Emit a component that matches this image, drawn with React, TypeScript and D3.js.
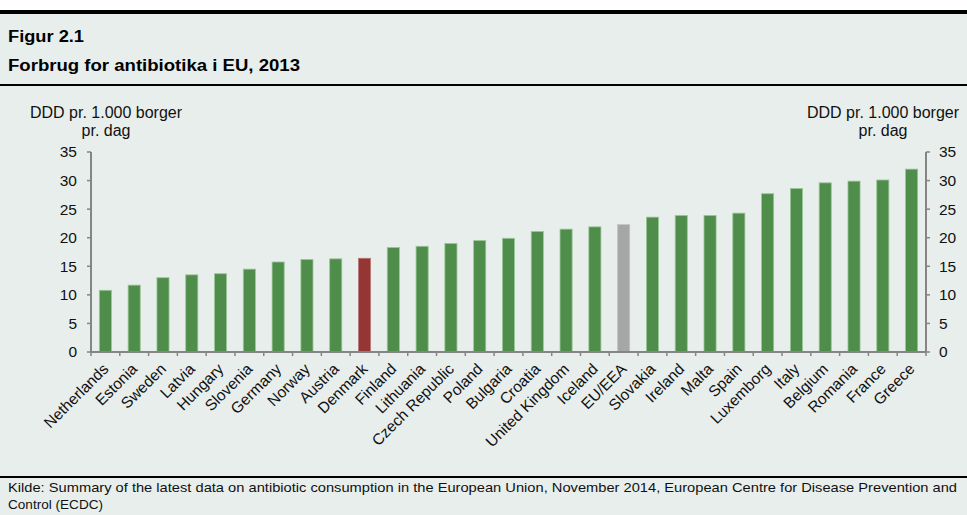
import React from "react";
import * as d3 from "d3";

const categories = [
  "Netherlands", "Estonia", "Sweden", "Latvia", "Hungary", "Slovenia", "Germany",
  "Norway", "Austria", "Denmark", "Finland", "Lithuania", "Czech Republic", "Poland",
  "Bulgaria", "Croatia", "United Kingdom", "Iceland", "EU/EEA", "Slovakia", "Ireland",
  "Malta", "Spain", "Luxemborg", "Italy", "Belgium", "Romania", "France", "Greece",
];
const values = [
  10.8, 11.7, 13.0, 13.5, 13.7, 14.5, 15.75, 16.2, 16.3, 16.4, 18.3, 18.5, 19.0, 19.5,
  19.9, 21.1, 21.5, 21.9, 22.3, 23.6, 23.9, 23.9, 24.3, 27.7, 28.6, 29.6, 29.9, 30.1, 32.0,
];
const yTicks = [0, 5, 10, 15, 20, 25, 30, 35];
const title1 = "Figur 2.1";
const title2 = "Forbrug for antibiotika i EU, 2013";
const axisTitle = ["DDD pr. 1.000 borger", "pr. dag"];
const source1 =
  "Kilde: Summary of the latest data on antibiotic consumption in the European Union, November 2014, European Centre for Disease Prevention and";
const source2 = "Control (ECDC)";

const W = 967;
const H = 515;
const left = 91;
const right = 926;
const y0 = 352;
const yTop = 152;
const axisColor = "#858585";
const font = "'Liberation Sans', Arial, sans-serif";
const fs = 15.5;

function barColor(c: string) {
  if (c === "Denmark") return "#943634";
  if (c === "EU/EEA") return "#a6a6a6";
  return "#4f8d4b";
}
function barStroke(c: string) {
  if (c === "Denmark") return "#b87876";
  if (c === "EU/EEA") return "#c4c4c4";
  return "#9cc598";
}

export default function App() {
  const x = d3.scaleBand<string>().domain(categories).range([left, right]).paddingInner(0.58).paddingOuter(0.29);
  const y = d3.scaleLinear().domain([0, 35]).range([y0, yTop]);
  const step = x.step();
  const boundaries = d3.range(categories.length + 1).map((i) => left + i * step);

  return (
    <svg width={W} height={H} style={{ position: "absolute", left: 0, top: 0 }} fontFamily={font}>
      <rect x={0} y={0} width={W} height={H} fill="#ffffff" />
      <rect x={0} y={14} width={W} height={H - 14} fill="#e8eeec" />
      <rect x={0} y={10} width={W} height={4} fill="#000" />
      <rect x={0} y={84} width={W} height={2} fill="#000" />
      <rect x={0} y={476} width={W} height={2} fill="#000" />

      <text x={8} y={42} fontSize={16} fontWeight="bold" textLength={76} lengthAdjust="spacingAndGlyphs">{title1}</text>
      <text x={8} y={71} fontSize={16} fontWeight="bold" textLength={292} lengthAdjust="spacingAndGlyphs">{title2}</text>

      {/* axis titles */}
      <text x={106} y={118} fontSize={16} textAnchor="middle" fill="#111">{axisTitle[0]}</text>
      <text x={106} y={136} fontSize={16} textAnchor="middle" fill="#111">{axisTitle[1]}</text>
      <text x={883} y={118} fontSize={16} textAnchor="middle" fill="#111">{axisTitle[0]}</text>
      <text x={883} y={136} fontSize={16} textAnchor="middle" fill="#111">{axisTitle[1]}</text>

      {/* bars */}
      {categories.map((c, i) => (
        <rect
          key={c}
          x={x(c)}
          y={y(values[i])}
          width={x.bandwidth()}
          height={y0 - y(values[i])}
          fill={barColor(c)}
          stroke={barStroke(c)}
          strokeWidth={0.8}
        />
      ))}

      {/* left axis */}
      <line x1={left} x2={left} y1={yTop} y2={y0} stroke={axisColor} strokeWidth={2} />
      {yTicks.map((t) => (
        <g key={"l" + t}>
          <line x1={left - 4} x2={left} y1={y(t)} y2={y(t)} stroke={axisColor} strokeWidth={1.5} />
          <text x={77} y={y(t)} dy="0.35em" fontSize={fs} textAnchor="end" fill="#111">{t}</text>
        </g>
      ))}
      {/* right axis */}
      <line x1={right} x2={right} y1={yTop} y2={y0} stroke={axisColor} strokeWidth={2} />
      {yTicks.map((t) => (
        <g key={"r" + t}>
          <line x1={right} x2={right + 4} y1={y(t)} y2={y(t)} stroke={axisColor} strokeWidth={1.5} />
          <text x={939} y={y(t)} dy="0.35em" fontSize={fs} textAnchor="start" fill="#111">{t}</text>
        </g>
      ))}
      {/* x axis */}
      <line x1={left} x2={right} y1={y0} y2={y0} stroke={axisColor} strokeWidth={2} />
      {boundaries.map((b, i) => (
        <line key={"xt" + i} x1={b} x2={b} y1={y0} y2={y0 + 4} stroke={axisColor} strokeWidth={1.5} />
      ))}
      {categories.map((c) => {
        const cx = (x(c) as number) + x.bandwidth() / 2;
        return (
          <text
            key={"lab" + c}
            transform={`translate(${cx + 4},370) rotate(-45)`}
            fontSize={fs}
            textAnchor="end"
            fill="#111"
          >
            {c}
          </text>
        );
      })}

      <text x={8} y={492} fontSize={13.5} textLength={949} lengthAdjust="spacingAndGlyphs" fill="#111">{source1}</text>
      <text x={8} y={509} fontSize={13.5} textLength={95} lengthAdjust="spacingAndGlyphs" fill="#111">{source2}</text>
    </svg>
  );
}
